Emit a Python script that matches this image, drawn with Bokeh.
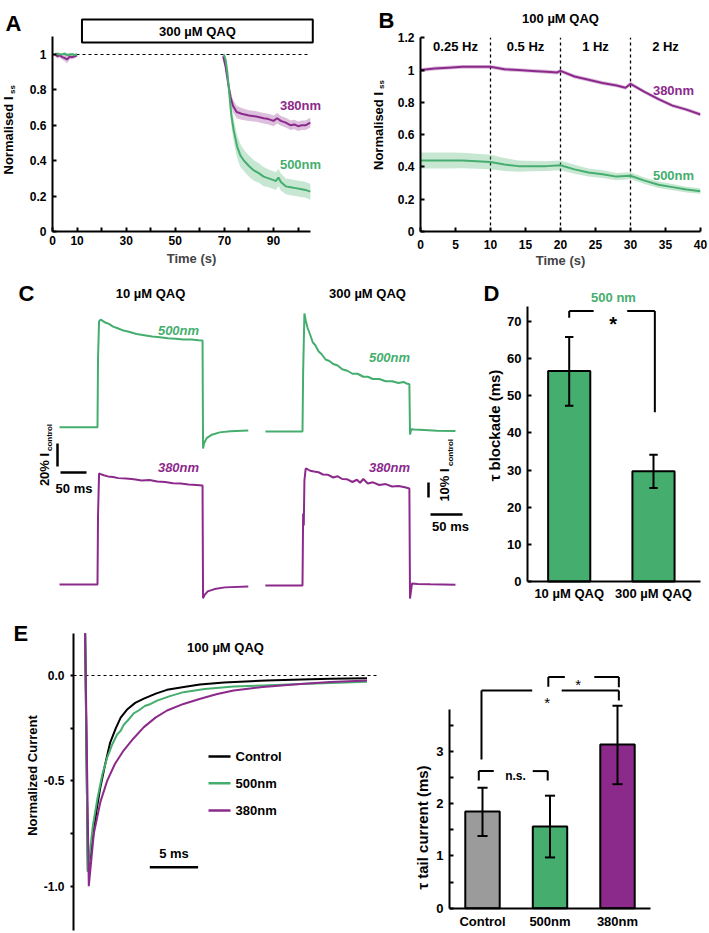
import math
from bokeh.plotting import figure
from bokeh.layouts import row, column
from bokeh.models import Label, FixedTicker, Range1d, GridBox
from bokeh.embed import file_html
from bokeh.resources import INLINE

FONT = "Liberation Sans"
GREEN = "#45AE6E"
PURPLE = "#8C2A8C"
GRAY = "#9B9B9B"

# ---------------- DATA ----------------
# Panel A  (300 uM QAQ, normalised Iss vs time in s)
A_qaq_window = [12, 106]
A_t_pre = [1, 2, 3, 4, 5, 6, 7, 8, 9, 10]
A_380_pre = [1.0, 0.99, 0.995, 0.985, 0.98, 0.972, 0.988, 0.985, 0.99, 0.995]
A_380_pre_err = [0.01, 0.012, 0.012, 0.015, 0.018, 0.022, 0.015, 0.012, 0.012, 0.01]
A_500_pre = [1.0, 1.005, 1.0, 1.002, 1.005, 0.997, 1.0, 1.002, 0.997, 1.0]
A_500_pre_err = [0.008, 0.008, 0.008, 0.008, 0.008, 0.008, 0.008, 0.008, 0.008, 0.008]
A_t_380 = [69.5, 70.5, 71.5, 72.5, 73.5, 75, 77, 80, 83, 86, 88, 90, 91.5, 93, 95, 97, 98.5, 100, 101.5, 103, 105]
A_380 = [0.99, 0.93, 0.84, 0.76, 0.71, 0.675, 0.665, 0.655, 0.65, 0.64, 0.635, 0.625, 0.64, 0.625, 0.615, 0.6, 0.605, 0.595, 0.6, 0.6, 0.615]
A_380_err = [0.01, 0.02, 0.03, 0.035, 0.035, 0.035, 0.033, 0.03, 0.03, 0.03, 0.03, 0.03, 0.03, 0.028, 0.028, 0.027, 0.027, 0.027, 0.027, 0.027, 0.027]
A_t_500 = [69.8, 70.5, 71.2, 72, 72.8, 73.8, 75.2, 76.5, 78, 80, 82, 84, 86, 88, 90, 91, 92, 93, 95, 97, 99, 101, 103, 105]
A_500 = [1.0, 0.97, 0.9, 0.78, 0.66, 0.57, 0.48, 0.43, 0.4, 0.37, 0.345, 0.33, 0.31, 0.3, 0.29, 0.285, 0.305, 0.28, 0.255, 0.25, 0.245, 0.24, 0.235, 0.225]
A_500_err = [0.01, 0.02, 0.03, 0.05, 0.06, 0.065, 0.065, 0.065, 0.06, 0.06, 0.058, 0.055, 0.055, 0.05, 0.05, 0.05, 0.05, 0.048, 0.045, 0.045, 0.045, 0.045, 0.045, 0.045]
A_xticks = [0, 10, 20, 30, 40, 50, 60, 70, 80, 90, 100]
A_xlabels = ["0", "10", "", "30", "", "50", "", "70", "", "90", ""]
A_yticks = [0, 0.2, 0.4, 0.6, 0.8, 1]
A_ylabels = ["0", "0.2", "0.4", "0.6", "0.8", "1"]

# Panel B  (100 uM QAQ, stimulation frequency steps)
B_t_380 = [0, 2, 4, 6, 8, 10, 12, 14, 16, 18, 19.5, 20, 22, 24, 26, 28, 29.3, 30, 32, 34, 36, 38, 40]
B_380 = [1.0, 1.01, 1.015, 1.02, 1.02, 1.02, 1.005, 1.0, 0.995, 0.99, 0.985, 0.995, 0.96, 0.94, 0.92, 0.905, 0.89, 0.915, 0.865, 0.82, 0.78, 0.755, 0.725]
B_380_err = [0.012] * 23
B_t_500 = [0, 2, 4, 6, 8, 10, 12, 14, 16, 18, 20, 22, 24, 26, 28, 30, 32, 34, 36, 38, 40]
B_500 = [0.44, 0.44, 0.44, 0.44, 0.435, 0.43, 0.415, 0.405, 0.405, 0.405, 0.41, 0.385, 0.365, 0.355, 0.34, 0.345, 0.315, 0.29, 0.275, 0.26, 0.25]
B_500_err = [0.05, 0.05, 0.05, 0.048, 0.046, 0.045, 0.04, 0.035, 0.032, 0.03, 0.03, 0.028, 0.025, 0.024, 0.022, 0.022, 0.02, 0.02, 0.02, 0.018, 0.018]
B_boundaries = [10, 20, 30]
B_freq_centers = [5, 15, 25, 35]
B_freq_labels = ["0.25 Hz", "0.5 Hz", "1 Hz", "2 Hz"]
B_xticks = [0, 5, 10, 15, 20, 25, 30, 35, 40]
B_xlabels = ["0", "5", "10", "15", "20", "25", "30", "35", "40"]
B_yticks = [0, 0.2, 0.4, 0.6, 0.8, 1, 1.2]
B_ylabels = ["0", "0.2", "0.4", "0.6", "0.8", "1", "1.2"]

# Panel C  (example traces: time ms, % I_control)
C10_t_500 = [-73, 0, 1, 3, 6, 10, 15, 22, 30, 40, 50, 62, 75, 90, 105, 120, 135, 150, 165, 180, 195, 202, 203, 205, 210, 220, 235, 255, 290]
C10_500 = [0, 0, 60, 92, 93.6, 92.5, 91, 89.8, 87.5, 85.8, 84, 82.8, 81, 80, 78.8, 78.3, 77.3, 77, 76.3, 76.2, 75.6, 75.4, -18.5, -14, -9.5, -6.5, -4.5, -3.5, -2.9]
C10_t_380 = [-73, 0, 1, 3, 6, 12, 20, 30, 40, 55, 70, 85, 100, 115, 130, 145, 160, 175, 190, 202, 203, 206, 212, 225, 245, 290]
C10_380 = [0, 0, 60, 96.5, 96, 95, 94, 93.5, 92.5, 92.2, 91.5, 90.5, 90.8, 89.5, 89.2, 88, 87.8, 87, 86.6, 86, -12, -9, -6, -4, -2.5, -1.7]
C300_t_500 = [-58, 0, 1, 3, 5, 8, 12, 16, 20, 25, 30, 36, 42, 48, 55, 62, 70, 78, 86, 95, 102, 110, 120, 130, 140, 150, 158, 164, 167, 168, 170, 175, 190, 210, 239]
C300_500 = [0, 0, 40, 78.7, 74, 69, 64.5, 59.5, 57.5, 53.5, 51.5, 48, 47, 45, 44, 41.5, 40.5, 38.5, 38.5, 36.5, 36.5, 35, 35, 33.5, 33.5, 32.3, 33, 31.8, 31.5, -2, 1.5, 1.3, 1, 0.5, 0.3]
C300_t_380 = [-58, 0, 1, 2, 3, 5, 8, 12, 18, 25, 32, 40, 48, 55, 62, 70, 78, 85, 90, 95, 102, 110, 120, 130, 140, 150, 160, 167, 168, 171, 180, 200, 239]
C300_380 = [0, 0, 48, 40, 70, 78, 77.5, 76.5, 76, 75.5, 74, 73.8, 72, 72.8, 71, 70.8, 69, 70.5, 68.5, 71, 68, 68.8, 67, 67.6, 66, 66.3, 65.5, 64.7, -8.7, 1.3, 1, 0.8, 0.5]
C_scale_ms = 50
C10_scale_pct = 20
C300_scale_pct = 10

# Panel D  (tau blockade, 500 nm)
D_cats = ["10 µM QAQ", "300 µM QAQ"]
D_x = [1, 2]
D_mean = [56.7, 29.7]
D_low = [47.3, 25.2]
D_high = [65.8, 34.1]
D_yticks = [0, 10, 20, 30, 40, 50, 60, 70]
D_ylabels = ["0", "10", "20", "30", "40", "50", "60", "70"]

# Panel E left  (tail currents, time ms, normalised current)
E_t_ctrl = [-0.38, -0.1, 0.4, 0.8, 1.2, 1.7, 2.2, 2.8, 3.3, 4.0, 4.8, 5.7, 7.0, 8.1, 10.0, 11.5, 14.0, 18.4, 22.0, 25.0, 28.8]
E_ctrl = [0.2, -0.93, -0.78, -0.64, -0.53, -0.42, -0.32, -0.25, -0.2, -0.16, -0.13, -0.11, -0.085, -0.068, -0.053, -0.043, -0.033, -0.024, -0.019, -0.016, -0.013]
E_t_500 = [-0.38, -0.1, 0.4, 0.87, 1.4, 1.9, 2.4, 2.93, 3.3, 3.6, 4.1, 4.65, 5.2, 5.8, 6.4, 7.07, 8.4, 9.8, 12, 15, 18, 21.9, 25, 28.8]
E_500 = [0.2, -0.93, -0.72, -0.59, -0.47, -0.39, -0.33, -0.28, -0.262, -0.235, -0.21, -0.18, -0.165, -0.145, -0.135, -0.119, -0.098, -0.079, -0.064, -0.052, -0.047, -0.04, -0.036, -0.03]
E_t_380 = [-0.38, 0, 0.52, 1.2, 1.9, 2.7, 3.6, 4.6, 5.7, 6.9, 8.1, 9.8, 11.55, 13.3, 15, 18, 21.9, 25, 28.8]
E_380 = [0.2, -1.0, -0.75, -0.6, -0.5, -0.42, -0.356, -0.3, -0.245, -0.2, -0.166, -0.135, -0.11, -0.088, -0.071, -0.055, -0.04, -0.031, -0.024]
E_names = ["Control", "500nm", "380nm"]
E_yticks = [-1, -0.75, -0.5, -0.25, 0]
E_ylabels = ["-1.0", "", "-0.5", "", "0.0"]
E_scale_ms = 5

# Panel E right  (tau tail current)
E2_x = [1, 2, 3]
E2_mean = [1.85, 1.56, 3.13]
E2_low = [1.38, 0.97, 2.37]
E2_high = [2.30, 2.15, 3.87]
E2_colors = [GRAY, GREEN, PURPLE]
E2_yticks = [0, 0.5, 1, 1.5, 2, 2.5, 3, 3.5]
E2_ylabels = ["0", "", "1", "", "2", "", "3", ""]

W, H = 708, 932
R1, R2 = 275, 605   # row boundaries (page px)


# ---------------- HELPERS ----------------
def pxmap(pa, va, pb, vb):
    k = (vb - va) / (pb - pa)
    return lambda p: va + (p - pa) * k


def panel(canvas, frame, fx, fy, xaxis=True, yaxis=True):
    cx0, cy0, cx1, cy1 = canvas
    fx0, fy0, fx1, fy1 = frame
    p = figure(width=cx1 - cx0, height=cy1 - cy0, output_backend="svg",
               toolbar_location=None,
               x_range=Range1d(fx(fx0), fx(fx1)), y_range=Range1d(fy(fy1), fy(fy0)),
               min_border_left=fx0 - cx0, min_border_right=cx1 - fx1,
               min_border_top=fy0 - cy0, min_border_bottom=cy1 - fy1,
               x_axis_location="below" if xaxis else None,
               y_axis_location="left" if yaxis else None)
    p.xgrid.visible = False
    p.ygrid.visible = False
    p.outline_line_color = None
    return p


def style_axis(ax, ticks, labels, bounds, tin=4, tout=0, size=12, ticks_visible=True, standoff=6):
    ax.ticker = FixedTicker(ticks=ticks)
    ax.major_label_overrides = dict(zip(ticks, labels))
    ax.bounds = bounds
    ax.axis_line_width = 2
    ax.axis_line_color = "black"
    ax.major_tick_line_width = 2
    ax.major_tick_in = tin
    ax.major_tick_out = tout
    if not ticks_visible:
        ax.major_tick_line_color = None
    ax.minor_tick_line_color = None
    ax.major_label_text_font = FONT
    ax.major_label_text_font_style = "bold"
    ax.major_label_text_font_size = f"{size}px"
    ax.major_label_text_color = "black"
    ax.major_label_standoff = standoff


def axis_title(ax, text, standoff=3):
    ax.axis_label = text
    ax.axis_label_text_font = FONT
    ax.axis_label_text_font_style = "bold"
    ax.axis_label_text_font_size = "13px"
    ax.axis_label_standoff = standoff


def band(p, t, m, e, color, alpha=0.3):
    lo = [a - b for a, b in zip(m, e)]
    hi = [a + b for a, b in zip(m, e)]
    p.varea(x=t, y1=lo, y2=hi, fill_color=color, fill_alpha=alpha)


# transparent overlay that carries the free texts, in page pixels
ov = figure(width=W, height=H, output_backend="svg", toolbar_location=None,
            x_range=Range1d(0, W), y_range=Range1d(H, 0),
            min_border=0, x_axis_location=None, y_axis_location=None,
            background_fill_color=None, border_fill_color=None)
ov.outline_line_color = None
ov.xgrid.visible = False
ov.ygrid.visible = False


def T(x, y, text, size=13, color="black", style="bold", align="center",
      baseline="middle", rot=False):
    ov.add_layout(Label(x=x, y=y, text=text, text_font=FONT,
                        text_font_size=f"{size}px", text_font_style=style,
                        text_color=color, text_align=align, text_baseline=baseline,
                        angle=math.pi / 2 if rot else 0.0))


def letter(x, y, s):
    T(x, y, s, size=22, align="left", baseline="alphabetic")


# ---------------- PANEL A ----------------
fxA = pxmap(52, 0, 273, 90)
fyA = pxmap(231, 0, 54, 1)
pxA = pxmap(0, 52, 90, 273)
pA = panel((0, 0, 340, R1), (52, 15, 330, 231), fxA, fyA)
pA.line(x=[0, A_qaq_window[1] - 1], y=[1, 1], line_color="black", line_width=1.2, line_dash="3 3")
band(pA, A_t_pre, A_380_pre, A_380_pre_err, PURPLE)
band(pA, A_t_pre, A_500_pre, A_500_pre_err, GREEN)
band(pA, A_t_380, A_380, A_380_err, PURPLE)
band(pA, A_t_500, A_500, A_500_err, GREEN)
pA.line(A_t_pre, A_380_pre, line_color=PURPLE, line_width=2)
pA.line(A_t_pre, A_500_pre, line_color=GREEN, line_width=2)
pA.line(A_t_380, A_380, line_color=PURPLE, line_width=2)
pA.line(A_t_500, A_500, line_color=GREEN, line_width=2)
pA.quad(left=[A_qaq_window[0]], right=[A_qaq_window[1]], bottom=[fyA(42)], top=[fyA(19)],
        fill_color="white", line_color="black", line_width=2)
style_axis(pA.xaxis[0], A_xticks, A_xlabels, (0, 105), standoff=4)
style_axis(pA.yaxis[0], A_yticks, A_ylabels, (0, 1.1))
axis_title(pA.xaxis[0], "Time (s)")
letter(5, 23, "A")
T(pxA(sum(A_qaq_window) / 2), 31, "300 µM QAQ")
T(300, 105, "380nm", color=PURPLE)
T(300, 164, "500nm", color=GREEN)
T(8, 135, "Normalised I", rot=True)
T(11.5, 89, "ss", size=8, rot=True)

# ---------------- PANEL B ----------------
fxB = pxmap(420, 0, 700, 40)
fyB = pxmap(231, 0, 37.3, 1.2)
pxB = pxmap(0, 420, 40, 700)
pB = panel((340, 0, W, R1), (420, 15, 700, 231), fxB, fyB)
pB.segment(x0=B_boundaries, y0=[0] * 3, x1=B_boundaries, y1=[1.2] * 3,
           line_color="black", line_width=1.3, line_dash="3 3")
band(pB, B_t_380, B_380, B_380_err, PURPLE)
band(pB, B_t_500, B_500, B_500_err, GREEN)
pB.line(B_t_380, B_380, line_color=PURPLE, line_width=2)
pB.line(B_t_500, B_500, line_color=GREEN, line_width=2)
style_axis(pB.xaxis[0], B_xticks, B_xlabels, (0, 40), standoff=8)
style_axis(pB.yaxis[0], B_yticks, B_ylabels, (0, 1.2))
axis_title(pB.xaxis[0], "Time (s)", standoff=1)
for c, lab in zip(B_freq_centers, B_freq_labels):
    T(pxB(c), 46, lab)
T(560, 18, "100 µM QAQ")
letter(378, 20, "B")
T(673, 90, "380nm", color=PURPLE)
T(673, 175, "500nm", color=GREEN)
T(377.5, 130.5, "Normalised I", rot=True)
T(381, 84, "ss", size=8, rot=True)

# ---------------- PANEL C (left, 10 uM) ----------------
fxC1 = pxmap(97, 0, 123, 50)
fyC1 = pxmap(426.7, 0, 403.7, 20)
pC1 = panel((0, R1, 255, R2), (0, R1 + 2, 255, R2), fxC1, fyC1, xaxis=False, yaxis=False)
off1 = fyC1(584)
pC1.line(C10_t_500, C10_500, line_color=GREEN, line_width=2)
pC1.line(C10_t_380, [v + off1 for v in C10_380], line_color=PURPLE, line_width=2)
sx, sy = fxC1(57), fyC1(466)
pC1.segment(x0=[sx], y0=[sy], x1=[sx], y1=[sy + C10_scale_pct], line_color="black", line_width=2.5)
hx, hy = fxC1(60), fyC1(472)
pC1.segment(x0=[hx], y0=[hy], x1=[hx + C_scale_ms], y1=[hy], line_color="black", line_width=2.5)
T(43.5, 469, "20% I", rot=True)
T(49, 437, "control", size=8, rot=True)
T(73.5, 488, "50 ms")
T(150, 293, "10 µM QAQ")
letter(18, 293, "C")
T(178, 329.5, "500nm", color=GREEN, style="bold italic")
T(178, 467, "380nm", color=PURPLE, style="bold italic")

# ---------------- PANEL C (right, 300 uM) ----------------
fxC2 = pxmap(302, 0, 334, 50)
fyC2 = pxmap(431, 0, 416, 10)
pC2 = panel((255, R1, 470, R2), (255, R1 + 2, 470, R2), fxC2, fyC2, xaxis=False, yaxis=False)
off2 = fyC2(585)
pC2.line(C300_t_500, C300_500, line_color=GREEN, line_width=2)
pC2.line(C300_t_380, [v + off2 for v in C300_380], line_color=PURPLE, line_width=2)
sx, sy = fxC2(428), fyC2(497)
pC2.segment(x0=[sx], y0=[sy], x1=[sx], y1=[sy + C300_scale_pct], line_color="black", line_width=2.5)
hx, hy = fxC2(430), fyC2(514)
pC2.segment(x0=[hx], y0=[hy], x1=[hx + C_scale_ms], y1=[hy], line_color="black", line_width=2.5)
T(443.5, 484.5, "10% I", rot=True)
T(450, 452, "control", size=8, rot=True)
T(450, 526, "50 ms")
T(367, 293, "300 µM QAQ")
T(389, 356.5, "500nm", color=GREEN, style="bold italic")
T(389, 467, "380nm", color=PURPLE, style="bold italic")

# ---------------- PANEL D ----------------
fxD = pxmap(568.7, 1, 653, 2)
fyD = pxmap(581, 0, 321, 70)
pD = panel((470, R1, W, R2), (527, R1 + 2, W, R2), fxD, fyD)
pD.vbar(x=D_x, top=D_mean, width=0.5, fill_color=GREEN, line_color="black", line_width=2)
pD.segment(x0=D_x, y0=D_low, x1=D_x, y1=D_high, line_color="black", line_width=2)
pD.segment(x0=[x - 0.05 for x in D_x], y0=D_low, x1=[x + 0.05 for x in D_x], y1=D_low, line_color="black", line_width=2)
pD.segment(x0=[x - 0.05 for x in D_x], y0=D_high, x1=[x + 0.05 for x in D_x], y1=D_high, line_color="black", line_width=2)
bl, br, btop = D_x[0], D_x[1] + 0.016, 72.8
pD.segment(x0=[bl, bl, 1.688, br], y0=[71.0, btop, btop, btop],
           x1=[bl, 1.29, br, br], y1=[btop, btop, btop, 45.6],
           line_color="black", line_width=2)
style_axis(pD.xaxis[0], D_x, D_cats, (fxD(527), fxD(700)), tin=0, size=13, ticks_visible=False, standoff=4)
pD.xaxis[0].fixed_location = 0
style_axis(pD.yaxis[0], D_yticks, D_ylabels, (0, 74), size=13)
T(612.7, 323.3, "*", size=20, baseline="alphabetic")
T(613, 297, "500 nm", color=GREEN)
letter(483, 293, "D")
T(494, 425, "τ blockade (ms)", size=15, rot=True)

# ---------------- PANEL E (left) ----------------
fxE1 = pxmap(88.3, 0, 136.6, 5)
fyE1 = pxmap(675, 0, 885.7, -1)
pxE1 = pxmap(0, 88.3, 5, 136.6)
pE1 = panel((0, R2, 410, H), (73, R2, 410, H), fxE1, fyE1, xaxis=False)
pE1.line(x=[fxE1(73), fxE1(378)], y=[0, 0], line_color="black", line_width=1.2, line_dash="3 3")
pE1.line(E_t_ctrl, E_ctrl, line_color="black", line_width=2)
pE1.line(E_t_500, E_500, line_color=GREEN, line_width=2)
pE1.line(E_t_380, E_380, line_color=PURPLE, line_width=2)
style_axis(pE1.yaxis[0], E_yticks, E_ylabels, (-1.21, 0.2), tin=0, tout=3, size=12, standoff=6)
leg_px = [756, 782.7, 810]
leg_y = [fyE1(v) for v in leg_px]
pE1.segment(x0=[fxE1(208)] * 3, y0=leg_y, x1=[fxE1(230)] * 3, y1=leg_y,
            line_color=["black", GREEN, PURPLE], line_width=2.5)
for yy, name in zip(leg_px, E_names):
    T(235, yy, name, align="left")
sbx = fxE1(149.3)
pE1.segment(x0=[sbx], y0=[fyE1(866.7)], x1=[sbx + E_scale_ms], y1=[fyE1(866.7)], line_color="black", line_width=2.5)
T(pxE1(sbx + E_scale_ms / 2), 852.5, "5 ms")
T(225, 647, "100 µM QAQ")
letter(13, 633, "E")
T(32, 775, "Normalized Current", rot=True)

# ---------------- PANEL E (right) ----------------
fxE2 = pxmap(482, 1, 617, 3)
fyE2 = pxmap(907.7, 0, 750.7, 3)
pE2 = panel((410, R2, W, H), (449, R2, W, H), fxE2, fyE2)
pE2.vbar(x=E2_x, top=E2_mean, width=0.51, fill_color=E2_colors, line_color="black", line_width=2)
pE2.segment(x0=E2_x, y0=E2_low, x1=E2_x, y1=E2_high, line_color="black", line_width=2)
pE2.segment(x0=[x - 0.075 for x in E2_x], y0=E2_low, x1=[x + 0.075 for x in E2_x], y1=E2_low, line_color="black", line_width=2)
pE2.segment(x0=[x - 0.075 for x in E2_x], y0=E2_high, x1=[x + 0.075 for x in E2_x], y1=E2_high, line_color="black", line_width=2)
# brackets: (x_left, x_right, top, left_bottom, right_bottom, gap_start, gap_end)
E2_brackets = [(0.945, 1.966, 2.62, 2.44, 2.44, 1.167, 1.744),
               (0.985, 3.02, 4.16, 2.84, 3.97, 1.736, 2.173),
               (1.975, 3.02, 4.42, 4.23, 4.22, 2.22, 2.656)]
for xl, xr, top, lb, rb, g0, g1 in E2_brackets:
    pE2.segment(x0=[xl, xl, g1, xr], y0=[lb, top, top, top],
                x1=[xl, g0, xr, xr], y1=[top, top, top, rb],
                line_color="black", line_width=2)
style_axis(pE2.xaxis[0], E2_x, E_names, (fxE2(449), fxE2(650)), tin=0, size=13, ticks_visible=False, standoff=6)
pE2.xaxis[0].fixed_location = 0
style_axis(pE2.yaxis[0], E2_yticks, E2_ylabels, (0, 3.8), size=13)
T(515, 775, "n.s.", size=12, baseline="alphabetic")
T(546.7, 702, "*", size=15, style="normal", baseline="alphabetic")
T(577.7, 684, "*", size=15, style="normal", baseline="alphabetic")
T(421.7, 827, "τ tail current (ms)", size=15, rot=True)

main = column(row(pA, pB), row(pC1, pC2, pD), row(pE1, pE2))
page = GridBox(children=[(main, 0, 0), (ov, 0, 0)])
open("out.html", "w").write(file_html(page, INLINE))
